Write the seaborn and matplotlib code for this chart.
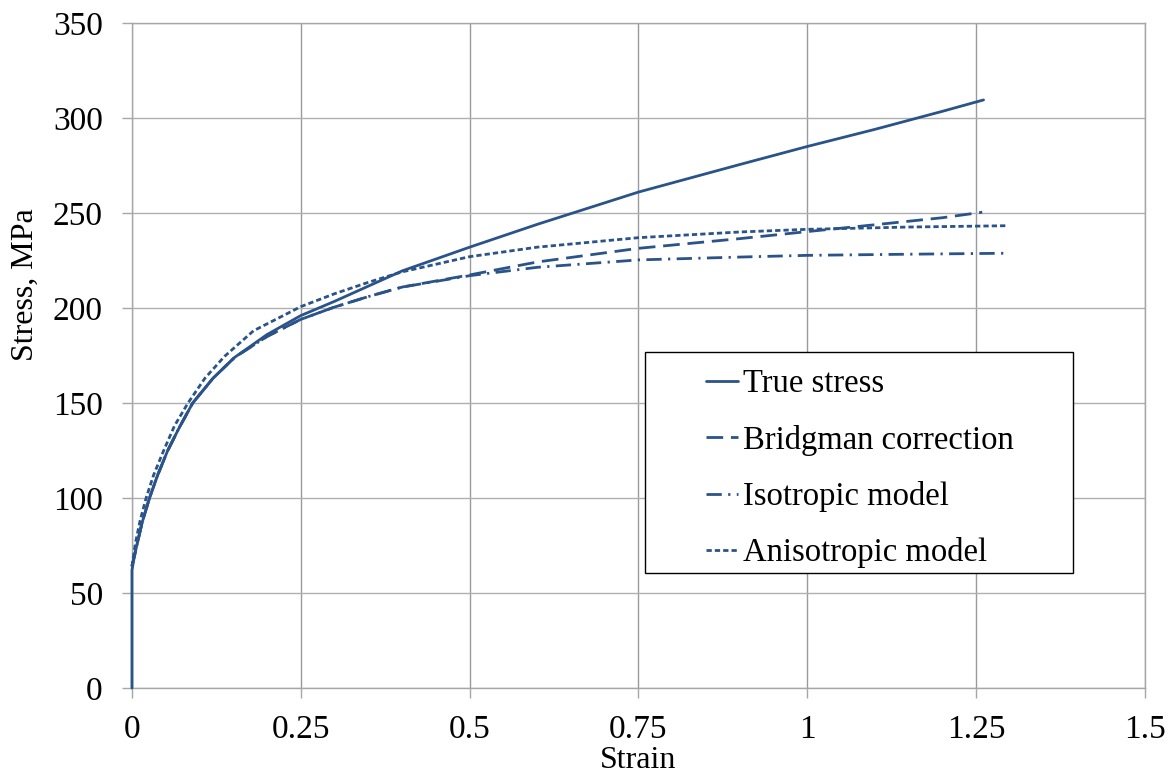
import matplotlib
matplotlib.use("Agg")
import matplotlib.pyplot as plt
from matplotlib.lines import Line2D
from matplotlib.patches import Rectangle
import numpy as np
import pandas as pd
import seaborn as sns

# Flow curves: strain (-) and stress (MPa)
true_strain = [0, 0, 0.003, 0.0065, 0.015, 0.026, 0.038, 0.053, 0.07, 0.09, 0.12, 0.152,
               0.2, 0.25, 0.3, 0.35, 0.4, 0.5, 0.6, 0.75, 0.9, 1.0, 1.1, 1.2, 1.261]
true_stress = [0, 62, 68, 74, 87, 100, 112, 125, 137, 150, 163, 174,
               186, 196, 203.5, 211.5, 219.5, 232, 244, 261, 275.5, 285, 294, 303.5, 309.5]

bridgman_strain = [0, 0.0065, 0.015, 0.026, 0.038, 0.053, 0.07, 0.09, 0.12, 0.152, 0.2,
                   0.25, 0.3, 0.35, 0.4, 0.5, 0.6, 0.75, 0.9, 1.0, 1.1, 1.2, 1.259]
bridgman_stress = [64, 74, 87, 100, 112, 125, 137, 150, 163, 174, 185,
                   194, 200.5, 206, 211, 217.4, 224.2, 231.4, 236.5, 240.2, 243.8, 247.5, 250.4]

iso_strain = [0, 0.0065, 0.015, 0.026, 0.038, 0.053, 0.07, 0.09, 0.12, 0.152, 0.2,
              0.25, 0.3, 0.35, 0.4, 0.5, 0.6, 0.75, 0.9, 1.0, 1.15, 1.292]
iso_stress = [64, 74, 87, 100, 112, 125, 137, 150, 163, 174, 185,
              194, 200.5, 206, 211, 217, 221.4, 225.3, 226.8, 227.7, 228.3, 228.8]

aniso_strain = [0, 0.005, 0.012, 0.021, 0.032, 0.047, 0.063, 0.083, 0.108, 0.137, 0.18,
                0.25, 0.3, 0.35, 0.4, 0.5, 0.6, 0.75, 0.9, 1.0, 1.15, 1.297]
aniso_stress = [64, 76, 88, 100, 112, 125, 138, 150, 163, 174.5, 188,
                200.7, 207.5, 213.5, 219, 227, 232, 237, 240, 241.4, 242.6, 243.3]

series_names = ["True stress", "Bridgman correction", "Isotropic model", "Anisotropic model"]
x_ticks = [0, 0.25, 0.5, 0.75, 1, 1.25, 1.5]
x_ticklabels = ["0", "0.25", "0.5", "0.75", "1", "1.25", "1.5"]
y_ticks = [0, 50, 100, 150, 200, 250, 300, 350]

frames = []
for name, xs, ys in zip(series_names,
                        [true_strain, bridgman_strain, iso_strain, aniso_strain],
                        [true_stress, bridgman_stress, iso_stress, aniso_stress]):
    frames.append(pd.DataFrame({"Strain": xs, "Stress": ys, "Curve": name}))
df = pd.concat(frames, ignore_index=True)

sns.set_theme(style="white")
plt.rcParams["font.family"] = ["Liberation Serif", "DejaVu Serif"]
plt.rcParams["text.color"] = "black"
plt.rcParams["axes.labelcolor"] = "black"
plt.rcParams["xtick.color"] = "black"
plt.rcParams["ytick.color"] = "black"

line_color = "#2a5389"
grid_color = "#a6a6a6"
line_width = 2.0
dash_map = {
    "True stress": "",
    "Bridgman correction": (6.0, 2.8),
    "Isotropic model": (5.5, 2.3, 0.8, 2.3),
    "Anisotropic model": (1.9, 1.1),
}

fig = plt.figure(figsize=(11.76, 7.76), dpi=100)
ax = fig.add_axes([0.1122, 0.1134, 0.8614, 0.857])

sns.lineplot(data=df, x="Strain", y="Stress", hue="Curve", style="Curve",
             hue_order=series_names, style_order=series_names,
             palette=[line_color] * 4, dashes=dash_map, estimator=None,
             sort=False, linewidth=line_width, legend=False, ax=ax,
             zorder=3, clip_on=False)

ax.set_xlim(0, 1.5)
ax.set_ylim(0, 350)
ax.set_xticks(x_ticks)
ax.set_xticklabels(x_ticklabels)
ax.set_yticks(y_ticks)
ax.xaxis.grid(True, color="#9a9a9a", linewidth=1.0)
ax.yaxis.grid(True, color="#b0b0b0", linewidth=1.0)
ax.set_axisbelow(True)
for sp in ax.spines.values():
    sp.set_color(grid_color)
    sp.set_linewidth(1.0)
ax.tick_params(axis="both", which="major", labelsize=24, length=7, width=1.0,
               color=grid_color, labelcolor="black")
ax.tick_params(axis="y", pad=14, left=True)
ax.tick_params(axis="x", pad=12, bottom=True)

ax.set_xlabel("Strain", fontsize=23, labelpad=1)
ax.set_ylabel("Stress, MPa", fontsize=23)
ax.yaxis.set_label_coords(-0.0908, 0.606)

# Legend: a boxed panel with the key entries inside
fig.patches.append(Rectangle((0.5485, 0.2616), 0.364, 0.2848, transform=fig.transFigure,
                             facecolor="white", edgecolor="black", linewidth=1.0,
                             zorder=5))
handles = [Line2D([], [], color=line_color, linewidth=line_width,
                  linestyle=("-" if dash_map[n] == "" else (0, dash_map[n])))
           for n in series_names]
leg = fig.legend(handles, series_names, loc="upper left",
                 bbox_to_anchor=(0.600, 0.525), bbox_transform=fig.transFigure,
                 frameon=False, fontsize=23.5, handlelength=1.0, handletextpad=0.15,
                 labelspacing=0.78, borderpad=0, borderaxespad=0)
leg.set_zorder(6)

fig.savefig("out.png", dpi=100)
